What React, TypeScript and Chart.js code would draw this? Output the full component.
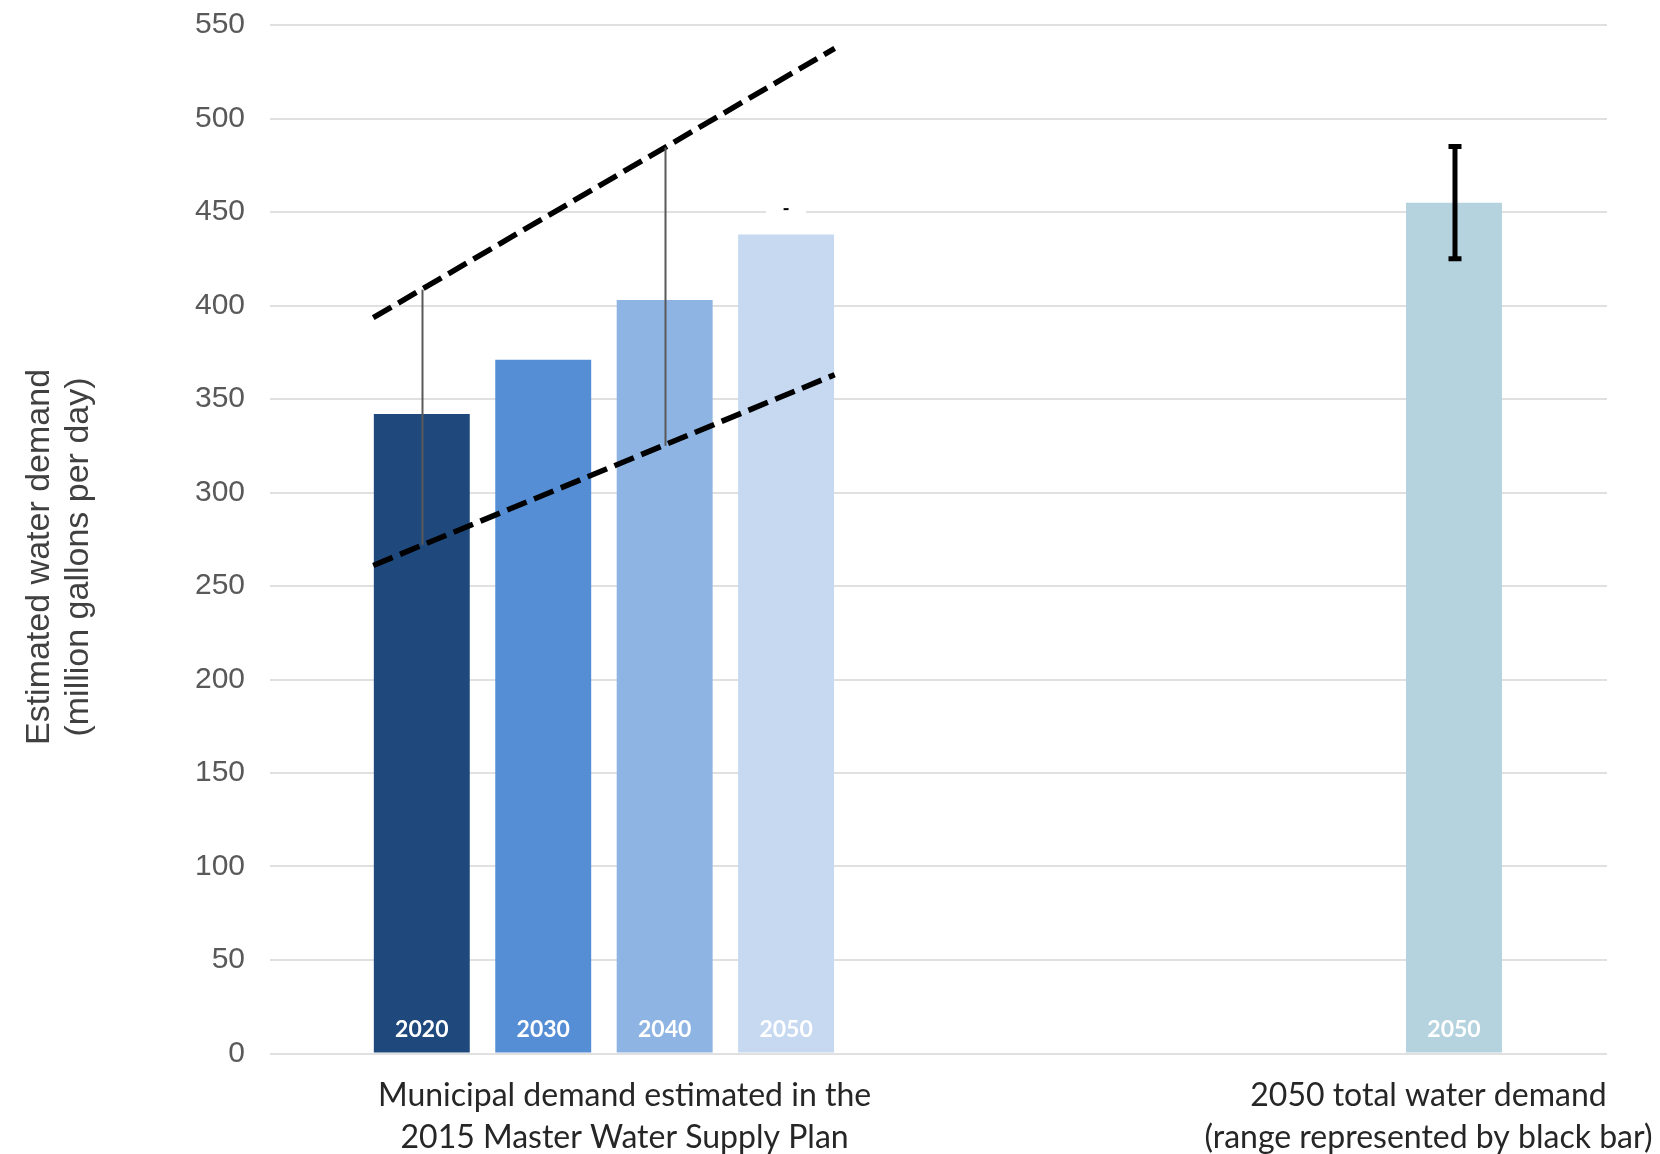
import React, { useEffect, useRef } from 'react';
import { Chart, registerables } from 'chart.js';

Chart.register(...registerables);

// ---------- data ----------
const municipalYears = ['2020', '2030', '2040', '2050'];
const municipalDemand = [342, 371, 403, 438];
const municipalColors = ['#1F497D', '#558ED5', '#8EB4E3', '#C6D9F1'];
const rangeLow = [272, null, 325, null];
const rangeHigh = [408.5, null, 484.5, null];
const ghostCap = [null, null, null, 451];

const totalYear = '2050';
const totalDemand = 455;
const totalLow = 425;
const totalHigh = 485;
const totalColor = '#B5D3DF';

const upperTrend = [393.5, 537.5];
const lowerTrend = [261, 363];

const groupLabels = [
  ['Municipal demand estimated in the', '2015 Master Water Supply Plan'],
  ['2050 total water demand', '(range represented by black bar)'],
];
const yTitle = ['Estimated water demand', '(million gallons per day)'];
const yMax = 550;
const yStep = 50;

// ---------- chart ----------
const totalSlot = municipalDemand.length + 4.5;
const trendX = [-0.4, municipalDemand.length - 0.6];
const groupLabelSlots = [1.67, 8.29];

const overlayPlugin = {
  id: 'overlay',
  afterDraw(chart: any) {
    const ctx = chart.ctx;
    const ys = chart.scales.y;
    const xs = chart.scales.x;
    const meta = chart.getDatasetMeta(2);
    const yZero = ys.getPixelForValue(0);

    ctx.save();
    // municipal range bars (thin gray)
    ctx.strokeStyle = '#595959';
    ctx.lineWidth = 2;
    rangeLow.forEach((lo, i) => {
      const hi = rangeHigh[i];
      if (lo == null || hi == null) return;
      const px = Math.round(meta.data[i].x) + 0.5;
      ctx.beginPath();
      ctx.moveTo(px, ys.getPixelForValue(lo));
      ctx.lineTo(px, ys.getPixelForValue(hi));
      ctx.stroke();
    });
    // faint cap on the 2050 bar
    ghostCap.forEach((v, i) => {
      if (v == null) return;
      const px = meta.data[i].x;
      const py = ys.getPixelForValue(v);
      ctx.strokeStyle = '#ffffff';
      ctx.lineWidth = 6;
      ctx.beginPath();
      ctx.moveTo(px - 20, py + 2);
      ctx.lineTo(px + 20, py + 2);
      ctx.stroke();
      ctx.strokeStyle = '#000000';
      ctx.lineWidth = 2;
      ctx.beginPath();
      ctx.moveTo(px - 2.5, py - 1);
      ctx.lineTo(px + 2.5, py - 1);
      ctx.stroke();
    });

    // total demand range bar (black)
    const tIdx = municipalDemand.length;
    const tx = meta.data[tIdx].x + 1;
    const tLo = ys.getPixelForValue(totalLow);
    const tHi = ys.getPixelForValue(totalHigh);
    ctx.strokeStyle = '#000000';
    ctx.lineWidth = 5;
    ctx.beginPath();
    ctx.moveTo(tx, tLo);
    ctx.lineTo(tx, tHi);
    ctx.stroke();
    ctx.beginPath();
    ctx.moveTo(tx - 6.5, tLo);
    ctx.lineTo(tx + 6.5, tLo);
    ctx.moveTo(tx - 6.5, tHi);
    ctx.lineTo(tx + 6.5, tHi);
    ctx.stroke();

    // in-bar year labels
    ctx.fillStyle = '#ffffff';
    ctx.font = 'bold 23px Lato, "Liberation Sans", sans-serif';
    ctx.textAlign = 'center';
    ctx.textBaseline = 'middle';
    const yearLabels = [...municipalYears, totalYear];
    yearLabels.forEach((lab, i) => {
      ctx.fillText(lab, meta.data[i].x, yZero - 24);
    });

    // group labels under the axis
    ctx.fillStyle = '#262626';
    ctx.font = '32px Lato, "Liberation Sans", sans-serif';
    ctx.textBaseline = 'alphabetic';
    groupLabels.forEach((lines, g) => {
      const cx = xs.getPixelForValue(groupLabelSlots[g]);
      lines.forEach((line, k) => {
        ctx.fillText(line, cx, yZero + 52.5 + k * 41.5);
      });
    });

    // y-axis title
    ctx.fillStyle = '#404040';
    ctx.font = '34px "Liberation Sans", Arial, sans-serif';
    ctx.textAlign = 'center';
    ctx.textBaseline = 'alphabetic';
    const baselines = [48.5, 88];
    yTitle.forEach((line, k) => {
      ctx.save();
      ctx.translate(baselines[k], 557);
      ctx.rotate(-Math.PI / 2);
      ctx.fillText(line, 0, 0);
      ctx.restore();
    });
    ctx.restore();
  },
};

export default function App() {
  const canvasRef = useRef<HTMLCanvasElement | null>(null);

  useEffect(() => {
    const canvas = canvasRef.current;
    if (!canvas) return;

    const barData = [
      ...municipalDemand.map((v, i) => ({ x: i, y: v })),
      { x: totalSlot, y: totalDemand },
    ];

    const trendStyle = {
      type: 'line',
      borderColor: '#000000',
      borderWidth: 5.5,
      borderDash: [21, 8],
      borderCapStyle: 'butt',
      pointRadius: 0,
      fill: false,
      order: 1,
    };

    const chart = new Chart(canvas, {
      type: 'bar',
      data: {
        datasets: [
          {
            ...trendStyle,
            data: [
              { x: trendX[0], y: upperTrend[0] },
              { x: trendX[1], y: upperTrend[1] },
            ],
          } as any,
          {
            ...trendStyle,
            data: [
              { x: trendX[0], y: lowerTrend[0] },
              { x: trendX[1], y: lowerTrend[1] },
            ],
          } as any,
          {
            type: 'bar',
            data: barData,
            backgroundColor: [...municipalColors, totalColor],
            borderWidth: 0,
            barPercentage: 0.79,
            categoryPercentage: 1,
            order: 2,
          } as any,
        ],
      },
      options: {
        animation: false,
        responsive: false,
        devicePixelRatio: 1,
        layout: { padding: { left: 0, top: 25, right: 53, bottom: 100.5 } },
        plugins: {
          legend: { display: false },
          tooltip: { enabled: false },
        },
        scales: {
          x: {
            type: 'linear',
            display: false,
            offset: false,
            min: -1.25,
            max: 9.76,
            afterBuildTicks: (s: any) => {
              s.ticks = [];
            },
          },
          y: {
            type: 'linear',
            min: 0,
            max: yMax,
            ticks: {
              stepSize: yStep,
              color: '#595959',
              font: { family: '"Liberation Sans", Arial, sans-serif', size: 30 },
              padding: 25,
            },
            grid: { color: '#e0e0e0', lineWidth: 2, drawTicks: false },
            border: { display: false },
            afterFit: (s: any) => {
              s.width = 270;
              s.paddingTop = 18;
              s.paddingBottom = 18;
            },
          },
        },
      } as any,
      plugins: [overlayPlugin],
    });

    return () => chart.destroy();
  }, []);

  return (
    <div style={{ position: 'absolute', left: 0, top: 0, width: 1660, height: 1154, background: '#ffffff' }}>
      <canvas ref={canvasRef} width={1660} height={1154} style={{ display: 'block' }} />
    </div>
  );
}
